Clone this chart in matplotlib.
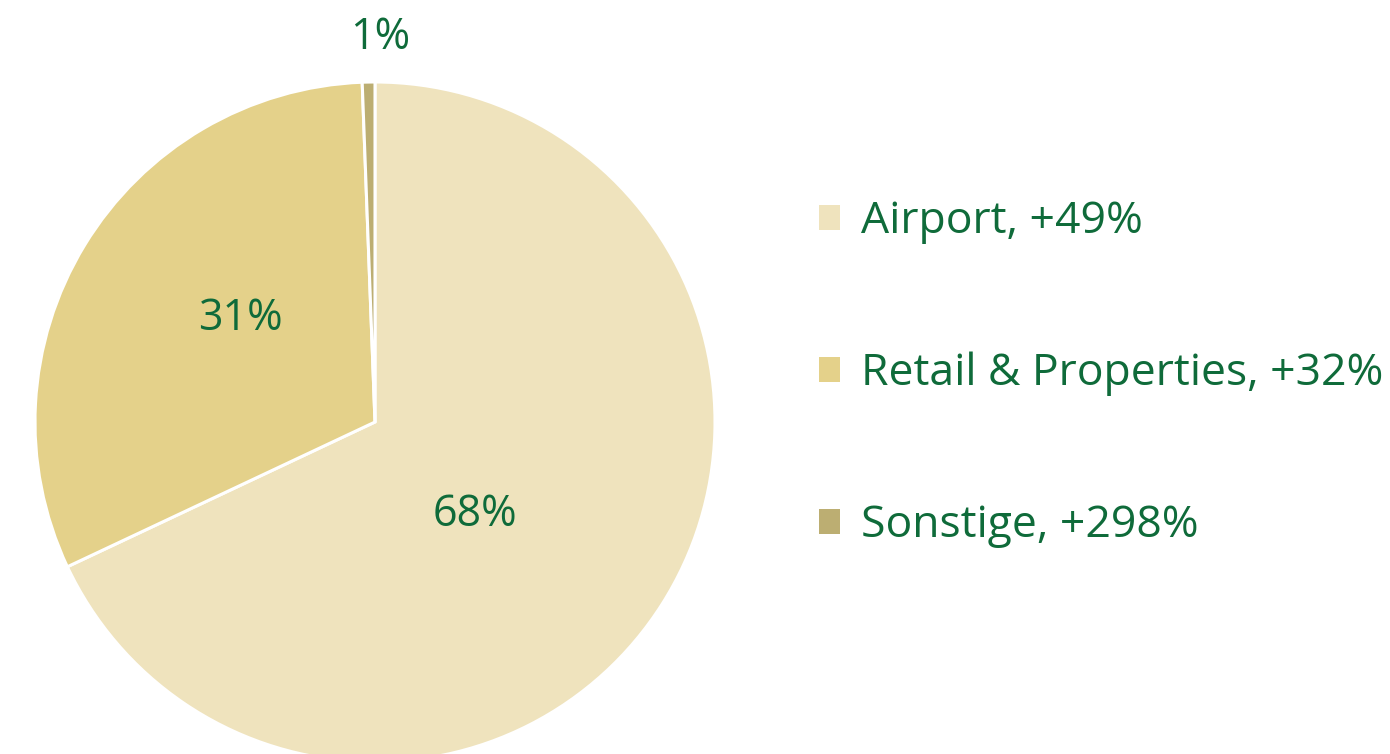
import numpy as np
import matplotlib.pyplot as plt

# segment names, growth labels and shares
segments = ["Airport", "Retail & Properties", "Sonstige"]
growth = ["+49%", "+32%", "+298%"]
shares = [68.0, 31.4, 0.6]
share_labels = ["68%", "31%", "1%"]
colors = ["#EFE3BD", "#E4D18A", "#BCAE72"]

TEXT_GREEN = "#0F6B3A"
plt.rcParams['font.family'] = ['Open Sans', 'DejaVu Sans']

if __name__ == '__main__':

    fig = plt.figure(figsize=(13.9, 7.54), dpi=100)

    # pie axes: center ~ (375, 422) px, radius ~340 px
    W, H = 1390, 754
    cx, cy, r = 375, 422, 340
    ax = fig.add_axes([(cx - r) / W, (H - cy - r) / H, 2 * r / W, 2 * r / H])

    wedges, _ = ax.pie(shares, colors=colors, startangle=90, counterclock=False,
                       radius=1.0, wedgeprops=dict(edgecolor="white", linewidth=2.2))
    ax.set_xlim(-1, 1)
    ax.set_ylim(-1, 1)
    ax.set_aspect("equal")
    ax.axis("off")

    # share labels
    label_pos = [(0.294, -0.274), (-0.397, 0.305), (0.015, 1.13)]
    for (x, y), txt in zip(label_pos, share_labels):
        ax.text(x, y, txt, ha="center", va="center", fontsize=31,
                color=TEXT_GREEN, clip_on=False)

    # legend
    leg_labels = [f"{s}, {g}" for s, g in zip(segments, growth)]
    leg = fig.legend(wedges, leg_labels, loc="center left",
                     bbox_to_anchor=(819 / W, (H - 374) / H),
                     frameon=False, fontsize=32, labelcolor=TEXT_GREEN,
                     handlelength=0.47, handleheight=0.47, handletextpad=0.48,
                     labelspacing=2.42, borderaxespad=0, borderpad=0)
    for h in leg.legend_handles:
        h.set_edgecolor("none")

    fig.savefig("out.png", dpi=100)
